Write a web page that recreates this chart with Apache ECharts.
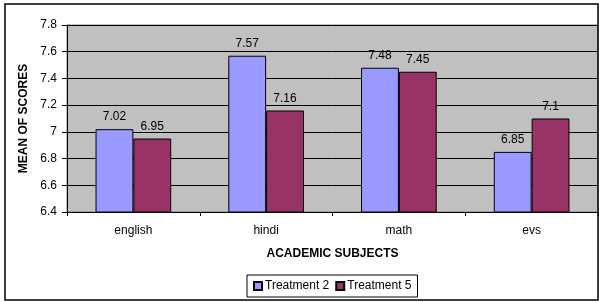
<!DOCTYPE html>
<html>
<head>
<meta charset="utf-8">
<script src="https://cdn.jsdelivr.net/npm/echarts@6/dist/echarts.min.js"></script>
<style>
html,body{margin:0;padding:0;background:#fff;}
#chart{width:599px;height:302px;}
</style>
</head>
<body>
<div id="chart"></div>
<script>
var subjects = ['english', 'hindi', 'math', 'evs'];
var treatment2 = [7.02, 7.57, 7.48, 6.85];
var treatment5 = [6.95, 7.16, 7.45, 7.1];
var seriesNames = ['Treatment 2', 'Treatment 5'];

var font = 'Arial, "Liberation Sans", sans-serif';

var chart = echarts.init(document.getElementById('chart'));

var labelStyle = {
	show: true,
	position: 'top',
	distance: 6,
	color: '#000',
	fontFamily: font,
	fontSize: 12
};

chart.setOption({
	animation: false,
	textStyle: { fontFamily: font },
	graphic: [{
		type: 'rect',
		shape: { x: 5, y: 4, width: 593, height: 296 },
		style: { fill: 'none', stroke: '#000', lineWidth: 1.5 },
		silent: true
	}],
	grid: {
		left: 67, right: 1, top: 25, bottom: 90,
		show: true,
		backgroundColor: '#c0c0c0',
		borderColor: '#808080',
		borderWidth: 1
	},
	legend: {
		data: seriesNames,
		bottom: 5,
		left: 247,
		itemWidth: 8,
		itemHeight: 8,
		itemGap: 6,
		icon: 'rect',
		borderColor: '#000',
		borderWidth: 1,
		padding: [5, 6],
		textStyle: { fontFamily: font, fontSize: 12, color: '#000', padding: [0, 0, 0, -2] }
	},
	xAxis: {
		type: 'category',
		data: subjects,
		name: 'ACADEMIC SUBJECTS',
		nameLocation: 'middle',
		nameGap: 36,
		nameTextStyle: { fontWeight: 'bold', fontSize: 12, color: '#000', fontFamily: font },
		axisLine: { lineStyle: { color: '#000', width: 1 } },
		axisTick: { show: true, length: 4, lineStyle: { color: '#000' } },
		axisLabel: { color: '#000', fontSize: 12, margin: 13, fontFamily: font }
	},
	yAxis: {
		type: 'value',
		min: 6.4,
		max: 7.8,
		interval: 0.2,
		name: 'MEAN OF SCORES',
		nameLocation: 'middle',
		nameGap: 32,
		nameTextStyle: { fontWeight: 'bold', fontSize: 12, color: '#000', fontFamily: font },
		axisLine: { show: true, lineStyle: { color: '#000', width: 1 } },
		axisTick: { show: true, length: 5, lineStyle: { color: '#000' } },
		axisLabel: { color: '#000', fontSize: 12, margin: 10, fontFamily: font,
			formatter: function (v) { return String(Math.round(v * 10) / 10); } },
		splitLine: { show: true, lineStyle: { color: '#000', width: 1 } }
	},
	series: [{
		name: seriesNames[0],
		type: 'bar',
		data: treatment2,
		barGap: '0%',
		barCategoryGap: '43%',
		itemStyle: { color: '#9999ff', borderColor: '#000', borderWidth: 1 },
		label: labelStyle
	}, {
		name: seriesNames[1],
		type: 'bar',
		data: treatment5,
		itemStyle: { color: '#993366', borderColor: '#000', borderWidth: 1 },
		label: labelStyle
	}]
});
</script>
</body>
</html>
